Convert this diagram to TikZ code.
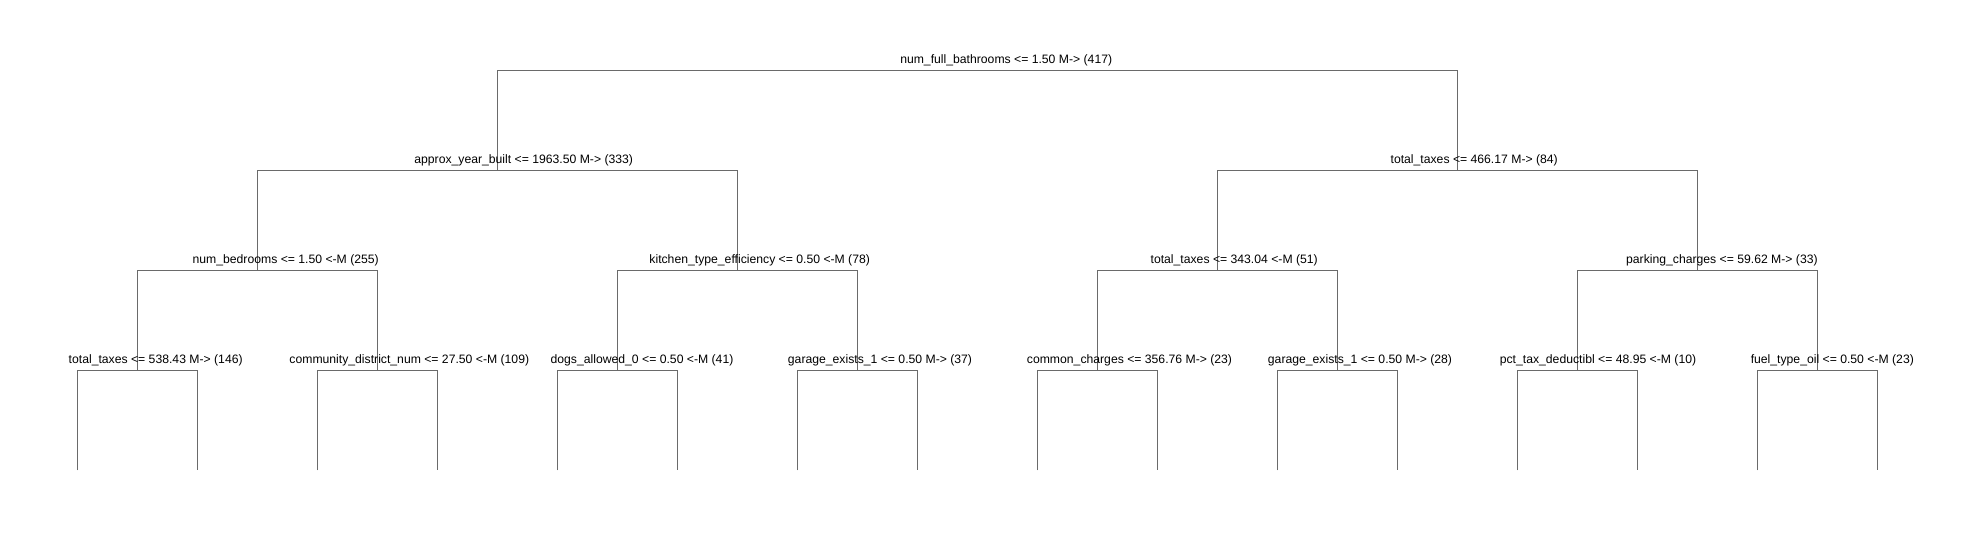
\documentclass[tikz,border=0pt]{standalone}
\usepackage{fontspec}
\setmainfont{Liberation Sans}
\definecolor{treegray}{RGB}{106,106,106}
\tikzset{
  edge/.style={draw=treegray, line width=1pt},
  lab/.style={anchor=base, inner sep=0pt, font=\fontsize{12.2}{14}\selectfont}
}
\begin{document}
\begin{tikzpicture}[x=1pt,y=1pt]
        \useasboundingbox (0,0) rectangle (1981,540);
        % split points
        \coordinate (bath) at (977.3,469.7);
        \coordinate (year) at (497.3,369.7);
        \coordinate (taxA) at (1457.3,369.7);
        \coordinate (bed) at (257.3,269.7);
        \coordinate (kit) at (737.3,269.7);
        \coordinate (taxB) at (1217.3,269.7);
        \coordinate (park) at (1697.3,269.7);
        \coordinate (taxC) at (137.3,169.7);
        \coordinate (comm) at (377.3,169.7);
        \coordinate (dogs) at (617.3,169.7);
        \coordinate (garA) at (857.3,169.7);
        \coordinate (cc) at (1097.3,169.7);
        \coordinate (garB) at (1337.3,169.7);
        \coordinate (pct) at (1577.3,169.7);
        \coordinate (fuel) at (1817.3,169.7);
        % leaves
        \foreach \k in {1,...,16} {
            \coordinate (leaf\k) at ({77.3+120*(\k-1)},69.7);
        }
        % branches
        \draw[edge] (year) |- (bath) -| (taxA);
        \draw[edge] (bed) |- (year) -| (kit);
        \draw[edge] (taxB) |- (taxA) -| (park);
        \draw[edge] (taxC) |- (bed) -| (comm);
        \draw[edge] (dogs) |- (kit) -| (garA);
        \draw[edge] (cc) |- (taxB) -| (garB);
        \draw[edge] (pct) |- (park) -| (fuel);
        \draw[edge] (leaf1) |- (taxC) -| (leaf2);
        \draw[edge] (leaf3) |- (comm) -| (leaf4);
        \draw[edge] (leaf5) |- (dogs) -| (leaf6);
        \draw[edge] (leaf7) |- (garA) -| (leaf8);
        \draw[edge] (leaf9) |- (cc) -| (leaf10);
        \draw[edge] (leaf11) |- (garB) -| (leaf12);
        \draw[edge] (leaf13) |- (pct) -| (leaf14);
        \draw[edge] (leaf15) |- (fuel) -| (leaf16);
        % split labels
        \node[lab] (bathT) at (1006.2,476) {num\_full\_bathrooms <= 1.50 M-> (417)};
        \node[lab] (yearT) at (523.7,376) {approx\_year\_built <= 1963.50 M-> (333)};
        \node[lab] (taxAT) at (1474.2,376) {total\_taxes <= 466.17 M-> (84)};
        \node[lab] (bedT) at (285.7,276) {num\_bedrooms <= 1.50 <-M (255)};
        \node[lab] (kitT) at (759.7,276) {kitchen\_type\_efficiency <= 0.50 <-M (78)};
        \node[lab] (taxBT) at (1234.2,276) {total\_taxes <= 343.04 <-M (51)};
        \node[lab] (parkT) at (1721.9,276) {parking\_charges <= 59.62 M-> (33)};
        \node[lab] (taxCT) at (155.7,176) {total\_taxes <= 538.43 M-> (146)};
        \node[lab] (commT) at (409.3,176) {community\_district\_num <= 27.50 <-M (109)};
        \node[lab] (dogsT) at (642,176) {dogs\_allowed\_0 <= 0.50 <-M (41)};
        \node[lab] (garAT) at (880,176) {garage\_exists\_1 <= 0.50 M-> (37)};
        \node[lab] (ccT) at (1129.5,176) {common\_charges <= 356.76 M-> (23)};
        \node[lab] (garBT) at (1360,176) {garage\_exists\_1 <= 0.50 M-> (28)};
        \node[lab] (pctT) at (1598,176) {pct\_tax\_deductibl <= 48.95 <-M (10)};
        \node[lab] (fuelT) at (1832.3,176) {fuel\_type\_oil <= 0.50 <-M (23)};
\end{tikzpicture}
\end{document}
